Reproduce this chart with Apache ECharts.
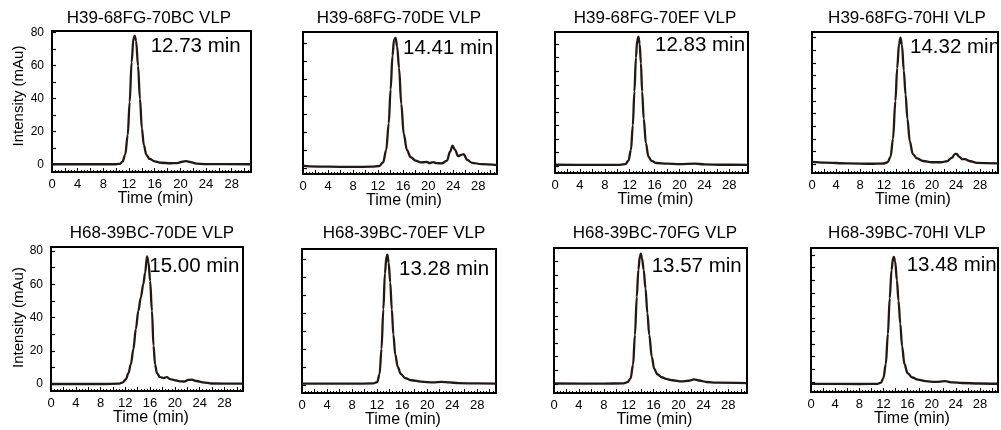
<!DOCTYPE html>
<html><head><meta charset="utf-8">
<script src="https://cdn.jsdelivr.net/npm/echarts@6/dist/echarts.min.js"></script>
<style>html,body{margin:0;padding:0;background:#fff}#c{width:1001px;height:430px}</style>
</head><body><div id="c"></div>
<script>
// ---------- data ----------
const panelTitles = ['H39-68FG-70BC VLP','H39-68FG-70DE VLP','H39-68FG-70EF VLP','H39-68FG-70HI VLP',
                     'H68-39BC-70DE VLP','H68-39BC-70EF VLP','H68-39BC-70FG VLP','H68-39BC-70HI VLP'];
const retentionLabels = ['12.73 min','14.41 min','12.83 min','14.32 min','15.00 min','13.28 min','13.57 min','13.48 min'];
const xTickLabels = [0,4,8,12,16,20,24,28];
const yTickLabels = [0,20,40,60,80];
const yTicks80 = [0,10,20,30,40,50,60,70,80];
const yTicks70 = [0,10,20,30,40,50,60,70];
const yTicks90 = [0,10,20,30,40,50,60,70,80,90];
const yTicks100 = [0,10,20,30,40,50,60,70,80,90,100];

const trace_H39_70BC = [[0,0.3],[5,0.3],[10,0.3],[10.6,0.6],[11,2],[11.4,6],[11.8,18],[12.1,38],[12.4,62],[12.7,77],[12.9,78],[13.1,75],[13.4,60],[13.7,40],[14.0,22],[14.3,12],[14.7,6],[15.2,3.5],[16,2],[17,1.2],[18.5,0.9],[19.5,1],[20.3,1.8],[20.9,2.2],[21.6,1.6],[22.5,0.7],[24,0.4],[31,0.3]];
const trace_H39_70DE = [[0,1.2],[1,0.8],[4,0.6],[8,0.5],[11,0.6],[12.2,1],[12.8,3],[13.3,10],[13.7,25],[14.0,44],[14.3,63],[14.55,72],[14.8,73],[15.05,68],[15.35,56],[15.7,36],[16.1,19],[16.6,10],[17.2,6],[18,4],[18.8,3],[19.5,3.2],[19.8,3.3],[20.2,2.6],[20.8,3.2],[21.3,2.6],[22.2,2.5],[23,4],[23.5,9],[23.9,12.4],[24.3,10],[24.8,6.5],[25.3,7.3],[25.7,7.6],[26.2,4.5],[27,2.8],[28.5,2],[31,1.5]];
const trace_H39_70EF = [[0,1],[6,0.9],[10.5,0.9],[11.3,1.5],[11.8,4],[12.2,12],[12.5,30],[12.75,55],[13.0,80],[13.2,93],[13.4,95.5],[13.6,90],[13.8,76],[14.0,55],[14.25,35],[14.6,17],[15.0,7],[15.5,3.8],[16.3,2.3],[18,1.8],[20,1.5],[22.5,1.8],[24,1.3],[27,1],[31,0.9]];
const trace_H39_70HI = [[0,1.8],[2,1.2],[6,0.6],[10,0.3],[12,0.5],[12.6,1.5],[13.1,6],[13.5,20],[13.9,50],[14.2,76],[14.5,95],[14.75,100],[15.0,94],[15.3,74],[15.6,55],[15.9,36],[16.3,18],[16.8,8],[17.5,4.5],[18.5,2.5],[20,1.5],[21.5,1.5],[22.5,2.3],[23.3,5],[23.8,8],[24.1,8.2],[24.5,6],[25,4],[25.5,4],[26.2,2.5],[27.5,1],[31,0.6]];
const trace_H68_70DE = [[0,0],[8,0],[11,0.2],[11.6,1],[12.1,3],[12.5,6.5],[12.9,12],[13.3,21],[13.7,33],[14.1,44],[14.5,52],[14.9,60],[15.2,67],[15.5,76.8],[15.75,73],[16.0,62],[16.3,44],[16.55,23],[16.8,12],[17.1,6.5],[17.6,4.2],[18.2,3.6],[18.7,4.2],[19.2,3],[19.9,2.4],[20.8,1.6],[21.5,1.5],[22.2,2.5],[22.7,2.6],[23.5,1.8],[24.5,1],[26,0.3],[31,0.2]];
const trace_H68_70EF = [[0,0.7],[8,0.7],[11.4,0.8],[12,1.5],[12.4,6],[12.7,20],[13.0,42],[13.25,62],[13.5,71.5],[13.65,72.4],[13.85,68],[14.1,57],[14.35,42],[14.6,28],[14.9,17],[15.3,10],[15.8,6],[16.5,3.8],[17.5,2.6],[19,1.8],[21,1.4],[22.3,1.7],[23.5,1.4],[25,1],[28,0.8],[31,0.7]];
const trace_H68_70FG = [[0,0.2],[8,0.1],[11.2,0.3],[11.8,1.2],[12.3,4],[12.7,14],[13.0,36],[13.3,64],[13.55,84],[13.8,94],[13.95,95.7],[14.15,92],[14.4,84],[14.7,70],[15.0,52],[15.3,36],[15.7,20],[16.1,11],[16.6,7],[17.3,4.8],[18,3.6],[19,2.6],[20.5,1.8],[21.6,2.2],[22.5,3.2],[23.3,2.4],[24.5,1.3],[26,0.8],[31,0.5]];
const trace_H68_70HI = [[0,-1.5],[8,-1.6],[11,-1.5],[11.6,-0.5],[12.0,3],[12.4,14],[12.75,38],[13.05,66],[13.35,88],[13.6,97.5],[13.75,98.4],[13.95,95],[14.25,80],[14.5,64],[14.8,46],[15.1,28],[15.5,14],[16.0,7],[16.8,3.5],[17.7,1.8],[19,0.6],[20.6,0],[22.2,0.6],[23.5,-0.3],[25,-0.8],[28,-1.2],[31,-1.4]];

const traces = [trace_H39_70BC, trace_H39_70DE, trace_H39_70EF, trace_H39_70HI,
                trace_H68_70DE, trace_H68_70EF, trace_H68_70FG, trace_H68_70HI];

// ---------- layout ----------
const panels = [
  {l:52,  t:31,  w:199, h:141, ymin:-4.4, ymax:81,    ticks:yTicks80,  showY:true,  tx:149, lx:150.7, ly:46.3},
  {l:303, t:32,  w:194, h:142, ymin:-3.5, ymax:76.3,  ticks:yTicks70,  showY:false, tx:399, lx:403,   ly:48},
  {l:555, t:32,  w:193, h:141, ymin:-5.1, ymax:99,    ticks:yTicks90,  showY:false, tx:655, lx:655,   ly:45.8},
  {l:812, t:32,  w:194, h:141, ymin:-7,   ymax:104.5, ticks:yTicks100, showY:false, tx:907, lx:910,   ly:47},
  {l:51,  t:247, w:192, h:144, ymin:-4.2, ymax:82.4,  ticks:yTicks80,  showY:true,  tx:152, lx:149.3, ly:266.7},
  {l:302, t:249, w:194, h:144, ymin:-4.5, ymax:75.6,  ticks:yTicks70,  showY:false, tx:404, lx:399,   ly:269},
  {l:554, t:248, w:193, h:145, ymin:-6.8, ymax:99.9,  ticks:yTicks90,  showY:false, tx:655, lx:651.7, ly:266.7},
  {l:811, t:248, w:194, h:144, ymin:-7.9, ymax:105.5, ticks:yTicks100, showY:false, tx:907, lx:906.7, ly:265.8}
];
const FONT = '"Liberation Sans", Arial, sans-serif';
const grids = [], xAxes = [], yAxes = [], series = [], graphics = [];

panels.forEach((p, i) => {
  grids.push({left:p.l, top:p.t, width:p.w, height:p.h, show:true, borderColor:'#000', borderWidth:2, backgroundColor:'transparent'});
  xAxes.push({
    type:'value', gridIndex:i, min:0, max:31, interval:2,
    axisLine:{show:true, onZero:false, lineStyle:{color:'#000', width:2}},
    axisTick:{show:true, inside:true, length:4, lineStyle:{color:'#000', width:1}},
    minorTick:{show:true, splitNumber:4, length:2, lineStyle:{color:'#000', width:1}},
    axisLabel:{color:'#000', fontSize:13, fontFamily:FONT, margin:6,
      formatter: v => (xTickLabels.indexOf(v) >= 0 ? String(v) : '')},
    splitLine:{show:false}
  });
  yAxes.push({
    type:'value', gridIndex:i, min:p.ymin, max:p.ymax,
    axisLine:{show:true, onZero:false, lineStyle:{color:'#000', width:2}},
    axisTick:{show:true, inside:true, length:4, customValues:p.ticks, lineStyle:{color:'#000', width:1.2}},
    axisLabel:{show:p.showY, customValues:yTickLabels, color:'#000', fontSize:12, fontFamily:FONT, margin:8},
    splitLine:{show:false}
  });
  series.push({
    type:'line', xAxisIndex:i, yAxisIndex:i, data:traces[i],
    showSymbol:false, smooth:0.35, smoothMonotone:'x', clip:true,
    lineStyle:{color:'#231815', width:2.3}, silent:true, animation:false
  });
  graphics.push({type:'text', x:p.tx, y:(i<4?18:233.5),
    style:{text:panelTitles[i], font:'17px '+FONT, fill:'#000', textAlign:'center', textVerticalAlign:'middle', align:'center', verticalAlign:'middle'}});
  graphics.push({type:'text', x:p.lx, y:p.ly,
    style:{text:retentionLabels[i], font:'20.5px '+FONT, fill:'#000', textAlign:'left', textVerticalAlign:'middle', align:'left', verticalAlign:'middle'}});
  graphics.push({type:'text', x:p.l + p.w/2 + 4, y:p.t + p.h + 27,
    style:{text:'Time (min)', font:'16px '+FONT, fill:'#000', textAlign:'center', textVerticalAlign:'middle', align:'center', verticalAlign:'middle'}});
  if (p.showY) {
    graphics.push({type:'text', x:18.5, y:(i<4?96:317.5), rotation:Math.PI/2,
      style:{text:'Intensity (mAu)', font:'15px '+FONT, fill:'#000', textAlign:'center', textVerticalAlign:'middle', align:'center', verticalAlign:'middle'}});
  }
});

const chart = echarts.init(document.getElementById('c'), null, {renderer:'canvas'});
chart.setOption({
  animation:false,
  backgroundColor:'#fff',
  grid:grids, xAxis:xAxes, yAxis:yAxes, series:series, graphic:graphics
});
</script></body></html>
